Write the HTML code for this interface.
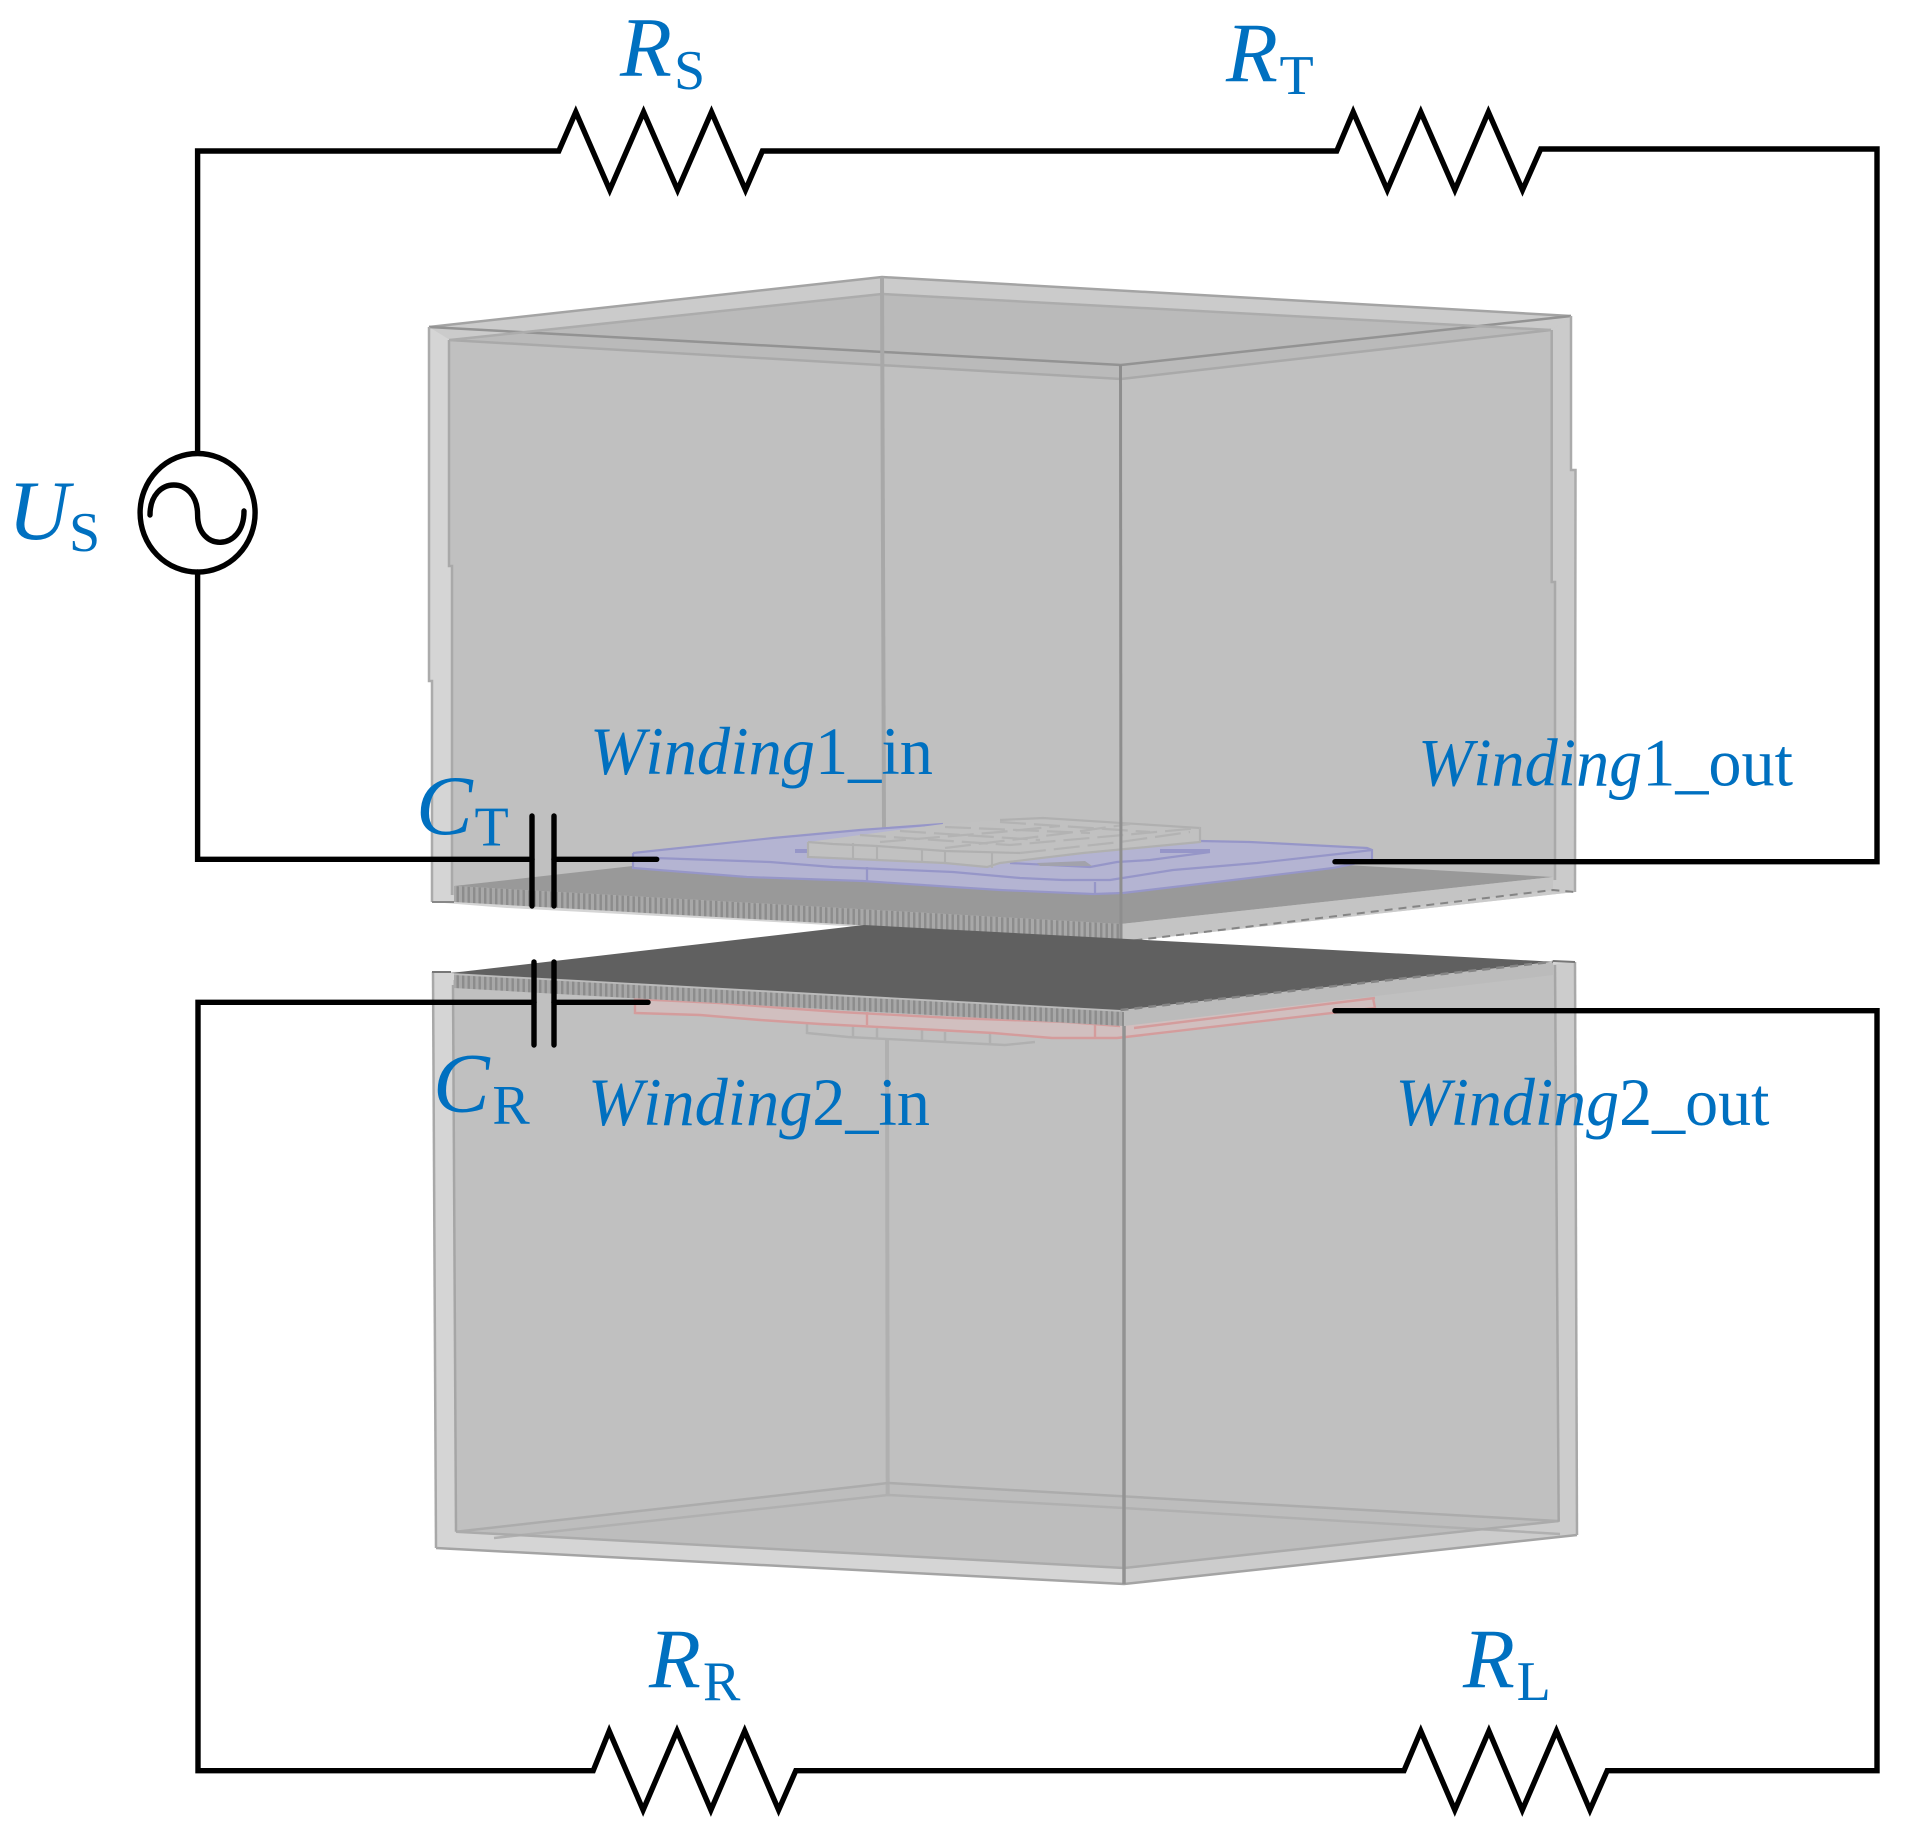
<!DOCTYPE html>
<html><head><meta charset="utf-8"><title>Wireless power transfer circuit</title>
<style>html,body{margin:0;padding:0;background:#fff}svg{display:block}
text{font-family:"Liberation Serif",serif;fill:#0070c0;font-kerning:none}
.m{font-size:85px;font-style:italic}.s{font-size:56px}.w{font-size:68px}.i{font-style:italic}</style></head>
<body>
<svg width="1905" height="1839" viewBox="0 0 1905 1839" xmlns="http://www.w3.org/2000/svg">
<defs>
<pattern id="st" width="5.5" height="20" patternUnits="userSpaceOnUse"><rect width="5.5" height="20" fill="#a8a8a8"/><rect width="2.4" height="20" fill="#8c8c8c"/></pattern>
</defs>
<rect width="1905" height="1839" fill="#fff"/>

<!-- upper box -->
<polygon points="429,327 882,277 1571,316 1571,470 1575.5,470 1575,892 1121,942 793,923 507,908 432,902 432,681 429,681" fill="#d5d5d5"/>
<polygon points="1121,365 1571,316 1571,470 1575.5,470 1575,892 1121,942" fill="#cbcbcb"/>
<polygon points="449,340 1121,379 1551.7,330 1551.7,582 1555,582 1555,880 1121,930 452,895 452,566 449,566" fill="#c0c0c0"/>
<polygon points="429,327 882,277 1571,316 1551,330 882,294 450,340" fill="#cbcbcb"/>
<polygon points="450,340 882,294 1551,330 1121,379" fill="#bababa"/>
<g fill="none" stroke-width="2.5">
<polyline points="429,327 882,277 1571,316" stroke="#a4a4a4"/>
<polyline points="429,327 1121,365 1571,316" stroke="#939393"/>
<polyline points="449,340 1121,379 1551,330" stroke="#a9a9a9"/>
<polyline points="450,340 882,294 1551,330" stroke="#acacac"/>
<polyline points="429,327 429,681 432,681 432,902" stroke="#ababab"/>
<polyline points="449,340 449,566 452,566 452,895" stroke="#a9a9a9"/>
<polyline points="1551.7,330 1551.7,582 1555,582 1555,880" stroke="#a9a9a9"/>
<polyline points="1571,316 1571,470 1575.5,470 1575,892" stroke="#ababab"/>
<line x1="882" y1="277" x2="884" y2="830" stroke="#a8a8a8" stroke-width="4"/>
</g>

<!-- lower box -->
<polygon points="432,972 1575,962 1577,1535 1124,1584 436,1548" fill="#d5d5d5"/>
<polygon points="1124,1010 1575,962 1577,1535 1124,1584" fill="#cccccc"/>
<polygon points="453,980 1555,965 1558.7,1521.7 1124,1568 456,1531.7" fill="#c0c0c0"/>
<polygon points="456,1531.7 888,1483 1558.7,1521 1124,1568" fill="#bdbdbd"/>
<g fill="none">
<line x1="887" y1="1038" x2="887.7" y2="1495" stroke="#b0b0b0" stroke-width="4"/>
<polyline points="456,1531.7 888,1483 1558,1521" stroke="#acacac" stroke-width="2.5"/>
<polyline points="494,1538 888,1495 1124,1508 1560,1534" stroke="#b0b0b0" stroke-width="2.5"/>
<polyline points="456,1531.7 1124,1568 1558.7,1521" stroke="#ababab" stroke-width="2.5"/>
<polyline points="436,1548 1124,1584 1577,1535" stroke="#a4a4a4" stroke-width="2.5"/>
<polyline points="433,972 436,1548" stroke="#a8a8a8" stroke-width="2.5"/>
<polyline points="453,985 456,1531.7" stroke="#a6a6a6" stroke-width="2.5"/>
<polyline points="1555,965 1558.7,1521.7" stroke="#a6a6a6" stroke-width="2.5"/>
<polyline points="1575,962 1577,1535" stroke="#a8a8a8" stroke-width="2.5"/>
</g>

<!-- red winding and coil fragment -->
<g fill="none" stroke="#b0b0b0" stroke-width="2.4">
<polyline points="807,1023 807,1033 848,1037 965,1043 1005,1045 1035,1042"/>
<polyline points="853,1025 853,1037"/>
<polyline points="877,1027 877,1038"/>
<polyline points="922,1030 922,1041"/>
<polyline points="945,1032 945,1042"/>
<polyline points="990,1033 990,1045"/>
</g>
<polygon points="635,998 783,1008 953,1018 1375,998 1375,1008 1117,1038 1052,1038 993,1033 937,1030 820,1024 760,1020 700,1015 635,1013" fill="#d1bfbf"/>
<g fill="none" stroke="#d49c9c" stroke-width="2.4">
<polyline points="635,998 635,1013 700,1015 760,1020 820,1024 937,1030 993,1033 1052,1038 1117,1038 1375,1008 1373,998"/>
<polyline points="635,999 720,1003 783,1008 840,1012 953,1018 1067,1022 1120,1026"/>
<line x1="867" y1="1012" x2="867" y2="1025"/>
<line x1="1095" y1="1023" x2="1095" y2="1038"/>
<polyline points="1134,1028 1375,998"/>
</g>

<!-- upper core plate -->
<polygon points="454,886 882,838 1553,877 1120.5,924" fill="#999999"/>
<polygon points="1120.5,924 1553,877 1553,890 1120.5,942" fill="#c4c4c4"/>
<polyline points="1120.5,942 1553,890 1575,892" fill="none" stroke="#858585" stroke-width="2" stroke-dasharray="8 6"/>
<polygon points="454,886 1120.5,924 1120.5,940 454,902" fill="url(#st)"/>
<polyline points="432,902 454,902" fill="none" stroke="#888" stroke-width="2"/>

<!-- blue winding on upper plate -->
<polygon points="633,853 773,838 860,830 943,824 1043,818 1200,841 1250,842 1367,848 1372,850 1372,860 1333,868 1233,880 1123,893 1093,894 1000,890 953,887 863,881 747,877 633,868" fill="#b4b4d2"/>
<g fill="none" stroke="#9696c8" stroke-width="2.2">
<polyline points="633,853 773,838 860,830 943,824"/>
<polyline points="1200,841 1250,842 1367,848 1372,850 1372,860 1333,868 1233,880 1123,893 1093,894 1000,890 953,887 863,881 747,877 633,868 633,853"/>
<polyline points="655,858 770,862 833,867 953,872 1020,878 1063,880 1110,880 1173,870 1257,863 1347,853 1372,850"/>
<line x1="867" y1="867" x2="867" y2="882"/>
<line x1="1095" y1="882" x2="1095" y2="895"/>
<polyline points="1010,863 1090,867 1117,862 1150,860 1210,852"/>
<polyline points="1160,851 1210,851" stroke-width="4"/>
<polyline points="795,851 808,851" stroke-width="4"/>
</g>
<!-- grey coil -->
<polygon points="808,842 860,835 943,824 1000,820 1043,818 1200,828 1200,842 1083,853 1000,863 993,867 945,863 877,860 808,857" fill="#c1c1c1"/>
<g fill="none" stroke="#b0b0b0" stroke-width="2.2">
<polyline points="808,842 833,844 877,846 945,851 1020,853"/>
<polyline points="808,842 808,857 877,860 945,863 987,867 1000,863 1083,853 1200,842 1200,828 1043,818 1000,820"/>
<line x1="853" y1="843" x2="853" y2="858"/>
<line x1="877" y1="847" x2="877" y2="860"/>
<line x1="922" y1="850" x2="922" y2="862"/>
<line x1="945" y1="852" x2="945" y2="863"/>
<line x1="992" y1="853" x2="992" y2="868"/>
<g stroke="#b3b3b3" stroke-dasharray="26 8">
<polyline points="860,835 1010,845 1090,838 1200,828"/>
<polyline points="900,831 1040,840"/>
<polyline points="945,827 1090,833"/>
<polyline points="1000,822 1150,832"/>
<polyline points="880,842 1000,832 1060,826"/>
<polyline points="945,848 1060,834 1130,824"/>
<polyline points="1020,853 1120,842 1190,832"/>
</g>
</g>
<polygon points="1037,863 1085,861 1092,866 1040,866" fill="#a2a2ac"/>
<line x1="1120.5" y1="365" x2="1121" y2="942" stroke="#8e8e8e" stroke-width="3"/>

<!-- lower core plate -->
<polygon points="454,973 1124,1010 1553,962 1553,975 1124,1026 454,988" fill="#bbbbbb"/>
<polygon points="454,975 1124,1012 1124,1026 454,988" fill="url(#st)"/>
<polygon points="451,973 864,925 1553,961.7 1120.5,1010" fill="#606060"/>
<polyline points="1120.5,1010 1553,961.7" fill="none" stroke="#858585" stroke-width="2.5" stroke-dasharray="8 6"/>
<polyline points="432,972 451,972" fill="none" stroke="#777" stroke-width="2"/>
<polyline points="1553,961 1575,962" fill="none" stroke="#777" stroke-width="2"/>
<line x1="1124" y1="1026" x2="1124" y2="1584" stroke="#929292" stroke-width="3.5"/>

<!-- circuit -->
<g fill="none" stroke="#000" stroke-width="5.4" stroke-linejoin="miter" stroke-miterlimit="10" stroke-linecap="round">
<polyline points="197.6,453 197.6,151 558.8,151 575.8,112 609.7,190 643.6,112 677.6,190 711.5,112 745.5,190 762.4,151 1336.7,151 1353.2,112 1387.3,190 1420.8,112 1454.9,190 1488.4,112 1522.5,190 1540.7,149 1877,149 1877,861.7 1335,861.7"/>
<polyline points="197.6,572 197.6,859.3 532,859.3"/>
<polyline points="554,859.3 656.7,859.3"/>
<line x1="532" y1="816" x2="532" y2="906"/>
<line x1="554" y1="816" x2="554" y2="906"/>
<polyline points="648,1002.3 554,1002.3"/>
<polyline points="534,1002.3 198,1002.3 198,1770.7 593.2,1770.7 609.2,1731 643.1,1810 677,1731 710.9,1810 744.7,1731 778.6,1810 795.8,1770.7 1404,1770.7 1420.8,1731 1454.8,1810 1488.9,1731 1522.3,1810 1556.4,1731 1589.9,1810 1607.2,1770.7 1877,1770.7 1877,1010.7 1335,1010.7"/>
<line x1="534" y1="962" x2="534" y2="1045"/>
<line x1="554" y1="962" x2="554" y2="1045"/>
<ellipse cx="197.6" cy="512.8" rx="57.5" ry="59.3"/>
<path d="M150,515 C150,475 197.6,475 197.6,515 C197.6,552 244,552 244,511"/>
</g>

<!-- labels -->
<text class="m" x="620" y="75.8">R</text><text class="s" x="674" y="88.8">S</text>
<text class="m" x="1226" y="81.5">R</text><text class="s" x="1279.5" y="93.8">T</text>
<text class="m" x="8" y="539">U</text><text class="s" x="69" y="551">S</text>
<text class="m" x="649" y="1687.3">R</text><text class="s" x="703" y="1700">R</text>
<text class="m" x="1463" y="1687.3">R</text><text class="s" x="1516.6" y="1700">L</text>
<text class="m" x="416" y="834">C</text><text class="s" x="474.5" y="845.7">T</text>
<text class="m" x="433" y="1111.7">C</text><text class="s" x="492.4" y="1123.3">R</text>
<text class="w" x="590" y="774" textLength="343" lengthAdjust="spacingAndGlyphs"><tspan class="i">Winding</tspan>1_in</text>
<text class="w" x="588" y="1125" textLength="342" lengthAdjust="spacingAndGlyphs"><tspan class="i">Winding</tspan>2_in</text>
<text class="w" x="1418" y="785.3" textLength="375" lengthAdjust="spacingAndGlyphs"><tspan class="i">Winding</tspan>1_out</text>
<text class="w" x="1395.5" y="1125" textLength="374" lengthAdjust="spacingAndGlyphs"><tspan class="i">Winding</tspan>2_out</text>
</svg>
</body></html>
